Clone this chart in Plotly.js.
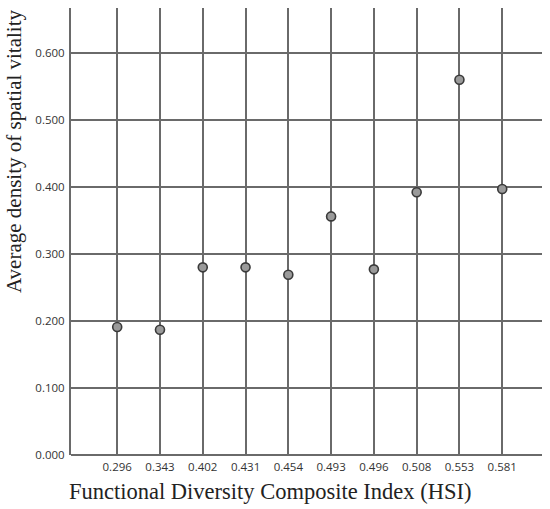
<!DOCTYPE html>
<html>
<head>
<meta charset="utf-8">
<script src="https://cdn.plot.ly/plotly-3.0.1.min.js"></script>
<style>html,body{margin:0;padding:0;background:#fff;}#chart{width:550px;height:509px;}</style>
</head>
<body>
<div id="chart"></div>
<script>
var hsiLabels = ["0.296","0.343","0.402","0.431","0.454","0.493","0.496","0.508","0.553","0.581"];
var vitality = [0.191, 0.187, 0.280, 0.280, 0.269, 0.356, 0.277, 0.392, 0.560, 0.397];
var yTicks = [0, 0.1, 0.2, 0.3, 0.4, 0.5, 0.6];
var xTitle = "Functional Diversity Composite Index (HSI)";
var yTitle = "Average density of spatial vitality";

var trace = {
  type: "scatter",
  mode: "markers",
  x: hsiLabels,
  y: vitality,
  marker: {size: 9, color: "#9a9a9a", line: {color: "#3a3a3a", width: 1.6}},
  hoverinfo: "x+y"
};

var gridCol = "#6a6a6a";
var layout = {
  width: 550, height: 509,
  margin: {l: 71, r: 8, t: 8, b: 54},
  paper_bgcolor: "#fff", plot_bgcolor: "#fff",
  showlegend: false,
  xaxis: {
    type: "category",
    categoryorder: "array",
    categoryarray: hsiLabels,
    range: [-1.08, 9.93],
    showgrid: true, gridcolor: gridCol, gridwidth: 2,
    showline: false, zeroline: false,
    ticks: "", ticklabelstandoff: 3,
    tickfont: {family: "Open Sans, sans-serif", size: 11.5, color: "#333"}
  },
  yaxis: {
    range: [0, 0.667],
    tickvals: yTicks,
    tickformat: ".3f",
    showgrid: true, gridcolor: gridCol, gridwidth: 2,
    zeroline: true, zerolinecolor: gridCol, zerolinewidth: 2,
    showline: true, linecolor: gridCol, linewidth: 2,
    ticks: "", ticklabelstandoff: 2,
    tickfont: {family: "Open Sans, sans-serif", size: 11.5, color: "#333"}
  },
  annotations: [
    {text: xTitle, xref: "paper", yref: "paper", x: 0.5, y: 0, xanchor: "center", yanchor: "top",
     showarrow: false, yshift: -22,
     font: {family: "Liberation Serif, serif", size: 22.5, color: "#222"}},
    {text: yTitle, xref: "paper", yref: "paper", x: 0, y: 1, xanchor: "center", yanchor: "top",
     textangle: -90, showarrow: false, xshift: -57, yshift: 1,
     font: {family: "Liberation Serif, serif", size: 21, color: "#222"}}
  ]
};
// center x title at pixel ~270
layout.annotations[0].x = (270 - 71) / (550 - 71 - 8);
Plotly.newPlot("chart", [trace], layout, {displayModeBar: false, staticPlot: true});
</script>
</body>
</html>
